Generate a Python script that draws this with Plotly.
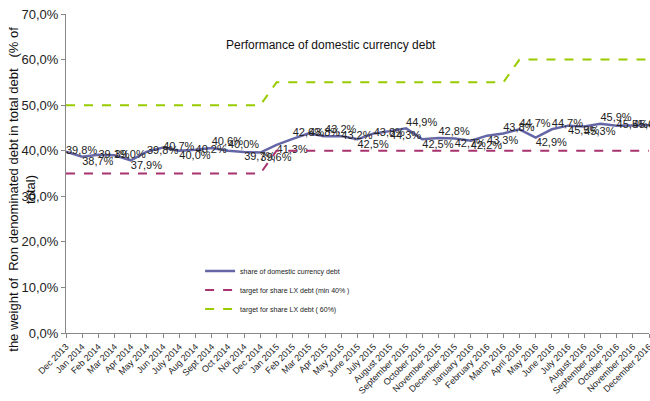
import plotly.graph_objects as go

months = ["Dec 2013", "Jan 2014", "Feb 2014", "Mar 2014", "Apr 2014", "May 2014", "Jun 2014",
          "July 2014", "Aug 2014", "Sept 2014", "Oct 2014", "Noi 2014", "Dec 2014", "Jan 2015",
          "Feb 2015", "Mar 2015", "Apr 2015", "May 2015", "June 2015", "July 2015", "August 2015",
          "September 2015", "October 2015", "November 2015", "December 2015", "January 2016",
          "February 2016", "March 2016", "April 2016", "May 2016", "June 2016", "July 2016",
          "August 2016", "September 2016", "October 2016", "November 2016", "December 2016"]

share_domestic = [39.8, 38.7, 39.1, 39.0, 37.9, 39.8, 40.7, 40.0, 40.2, 40.6, 40.0, 39.7, 39.6,
                  41.3, 42.6, 43.8, 43.2, 43.2, 42.5, 43.8, 44.3, 44.9, 42.5, 42.8, 42.7,
                  42.2, 43.3, 43.8, 44.7, 42.9, 44.7, 45.5, 45.3, 45.9, 45.5, 45.6, 45.6]

target_min40 = [35] * 13 + [40] * 24
target_60 = [50] * 13 + [55] * 15 + [60] * 9

label_pos = ["middle right", "bottom right", "middle right", "middle right", "bottom right",
             "middle right", "middle right", "bottom right", "middle right", "top right",
             "top right", "bottom right", "bottom right",
             "bottom right", "top right", "middle right", "top right", "middle right",
             "bottom right", "middle right", "bottom right", "top right", "bottom right",
             "top right", "bottom right",
             "bottom right", "bottom right", "top right", "top right", "bottom right",
             "top right", "bottom right", "bottom right", "top right", "middle right",
             "middle right", "middle right"]

y_ticks = [0, 10, 20, 30, 40, 50, 60, 70]
y_ticktext = ["0,0%", "10,0%", "20,0%", "30,0%", "40,0%", "50,0%", "60,0%", "70,0%"]

FONT = "Liberation Sans, Arial, sans-serif"

fig = go.Figure()
fig.add_trace(go.Scatter(
    x=months, y=share_domestic, mode="lines+text", name="share of domestic currency debt",
    line=dict(color="#6466A6", width=2.5),
    text=[f"{v:.1f}%".replace(".", ",") for v in share_domestic],
    textposition=label_pos, textfont=dict(size=11, color="#222222", family=FONT),
    cliponaxis=False,
))
fig.add_trace(go.Scatter(
    x=months, y=target_min40, mode="lines", name="target for share LX debt (min 40% )",
    line=dict(color="#A8336F", width=2, dash="dash"),
))
fig.add_trace(go.Scatter(
    x=months, y=target_60, mode="lines", name="target for share LX debt ( 60%)",
    line=dict(color="#99CC00", width=2, dash="dash"),
))

fig.add_annotation(text="Performance of domestic currency debt", xref="paper", yref="paper",
                   x=0.454, y=0.902, xanchor="center", yanchor="middle", showarrow=False,
                   font=dict(size=12, color="#111111", family=FONT))
fig.add_annotation(text="the weight of  Ron denominated debt in total debt   (% of<br>total)",
                   xref="paper", yref="paper", x=-0.075, y=0.45, xanchor="center",
                   yanchor="middle", textangle=-90, showarrow=False,
                   font=dict(size=13, color="#111111", family=FONT), align="center")

fig.update_layout(
    width=650, height=401,
    margin=dict(l=66, r=1, t=14, b=68),
    plot_bgcolor="white", paper_bgcolor="white",
    font=dict(family=FONT, color="#111111"),
    showlegend=True,
    legend=dict(x=0.23, y=0.24, xanchor="left", yanchor="top", bgcolor="rgba(0,0,0,0)",
                font=dict(size=7, color="#222222"), itemwidth=30),
    xaxis=dict(type="category", range=[0, 36], showline=True, linecolor="#888888", linewidth=1,
               ticks="outside", ticklen=4, tickcolor="#888888", tickangle=-45,
               tickfont=dict(size=9, color="#222222"), showgrid=False, automargin=False,
               ticklabeloverflow="allow"),
    yaxis=dict(range=[0, 70], tickvals=y_ticks, ticktext=y_ticktext, showline=True,
               linecolor="#888888", linewidth=1, ticks="outside", ticklen=4, tickcolor="#888888",
               tickfont=dict(size=13, color="#222222"), showgrid=False, zeroline=False,
               automargin=False, ticklabeloverflow="allow"),
)

fig.write_html("out.html", config={"displayModeBar": False},
               post_script="document.body.style.margin='0';document.body.style.overflow='hidden';")
